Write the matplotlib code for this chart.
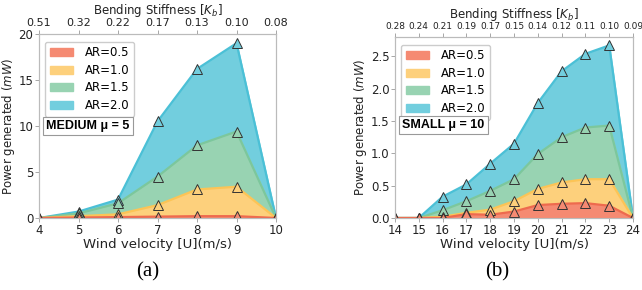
import matplotlib
matplotlib.use("Agg")
import matplotlib.pyplot as plt
import numpy as np

# Panel (a): MEDIUM mu=5
u_a = [4, 5, 6, 7, 8, 9, 10]
kb_a = ["0.51", "0.32", "0.22", "0.17", "0.13", "0.10", "0.08"]
a_ar05 = [0, 0.05, 0.1, 0.15, 0.2, 0.2, 0]
a_ar10 = [0, 0.2, 0.4, 1.4, 3.1, 3.4, 0]
a_ar15 = [0, 0.5, 1.6, 4.5, 7.9, 9.4, 0]
a_ar20 = [0, 0.7, 2.0, 10.5, 16.2, 19.0, 0]

# Panel (b): SMALL mu=10
u_b = [14, 15, 16, 17, 18, 19, 20, 21, 22, 23, 24]
kb_b = ["0.28", "0.24", "0.21", "0.19", "0.17", "0.15", "0.14", "0.12", "0.11", "0.10", "0.09"]
b_ar05 = [0, 0, 0, 0.06, 0.05, 0.10, 0.20, 0.22, 0.23, 0.19, 0]
b_ar10 = [0, 0, 0.02, 0.08, 0.13, 0.26, 0.45, 0.55, 0.60, 0.60, 0]
b_ar15 = [0, 0, 0.12, 0.26, 0.42, 0.60, 0.99, 1.25, 1.40, 1.43, 0]
b_ar20 = [0, 0, 0.33, 0.52, 0.84, 1.15, 1.78, 2.27, 2.54, 2.67, 0]

labels = ["AR=0.5", "AR=1.0", "AR=1.5", "AR=2.0"]
fills = ["#F58A72", "#FDD07C", "#98D3B2", "#72CEDE"]
lines = ["#EE6A4E", "#FCC456", "#7CC79C", "#4BC0D6"]

fig = plt.figure(figsize=(6.42, 2.90), dpi=100)
W, H = 642, 290

def make(ax_rect, u, kb, series, ylim, yticks, ytl, label, tfs, topfs, panel, px, boxy, tpad):
    ax = fig.add_axes(ax_rect)
    handles = []
    for i in reversed(range(4)):
        ax.fill_between(u, 0, series[i], color=fills[i], zorder=2 + (3 - i))
        ax.plot(u, series[i], color=lines[i], lw=1.6, zorder=2 + (3 - i))
    for i in reversed(range(4)):
        ax.plot(u, series[i], ls="none", marker="^", ms=6.5, mfc=fills[i],
                mec="#333333", mew=0.7, zorder=10)
    for i in range(4):
        handles.append(plt.Rectangle((0, 0), 1, 1, color=fills[i]))
    ax.set_xlim(u[0], u[-1])
    ax.set_ylim(*ylim)
    ax.set_xticks(u)
    ax.set_xticklabels([str(v) for v in u], fontsize=tfs, color="#222222")
    ax.set_yticks(yticks)
    ax.set_yticklabels(ytl, fontsize=tfs, color="#222222")
    ax.tick_params(length=3, width=0.6, color="#999999", pad=1)
    for s in ax.spines.values():
        s.set_color("#bbbbbb")
        s.set_linewidth(0.8)
    ax.set_xlabel("Wind velocity [U](m/s)", fontsize=9.5, labelpad=1, color="#222222")
    ax.set_ylabel("Power generated ($mW$)", fontsize=8.5, labelpad=1, color="#222222")
    top = ax.twiny()
    top.set_xlim(u[0], u[-1])
    top.set_xticks(u)
    top.set_xticklabels(kb, fontsize=topfs, color="#222222")
    top.tick_params(length=3, width=0.6, color="#999999", pad=1)
    for s in top.spines.values():
        s.set_color("#bbbbbb")
        s.set_linewidth(0.8)
    top.set_xlabel("Bending Stiffness [$K_b$]", fontsize=8.5, labelpad=tpad, color="#222222")
    leg = ax.legend(handles, labels, loc="upper left", fontsize=8.5,
                    handlelength=2.0, handleheight=0.7, borderpad=0.4,
                    labelspacing=0.38, handletextpad=1.0, framealpha=1,
                    edgecolor="#cccccc", bbox_to_anchor=(0.0, 0.99))
    leg.set_zorder(20)
    ax.text(0.03, boxy, label, transform=ax.transAxes, fontsize=9,
            family="Liberation Sans", fontweight="bold", ha="left", va="center",
            zorder=21,
            bbox=dict(boxstyle="square,pad=0.25", fc="white", ec="#999999", lw=0.8))
    fig.text(px / W, 1 - 272 / H, panel, fontsize=15, family="Liberation Serif",
             ha="center", va="center")
    return ax

def rect(l, r, t, b):
    return [l / W, 1 - b / H, (r - l) / W, (b - t) / H]

make(rect(39, 276, 34, 218), u_a, kb_a, [a_ar05, a_ar10, a_ar15, a_ar20],
     (0, 20), [0, 5, 10, 15, 20], ["0", "5", "10", "15", "20"],
     "MEDIUM μ = 5", 8.5, 8.0, "(a)", 148, 0.5, 3.0)
make(rect(395, 633, 37, 218), u_b, kb_b, [b_ar05, b_ar10, b_ar15, b_ar20],
     (0, 2.8), [0, 0.5, 1.0, 1.5, 2.0, 2.5], ["0.0", "0.5", "1.0", "1.5", "2.0", "2.5"],
     "SMALL μ = 10", 8.5, 6.5, "(b)", 497, 0.515, 3.5)

fig.savefig("out.png", dpi=100)
